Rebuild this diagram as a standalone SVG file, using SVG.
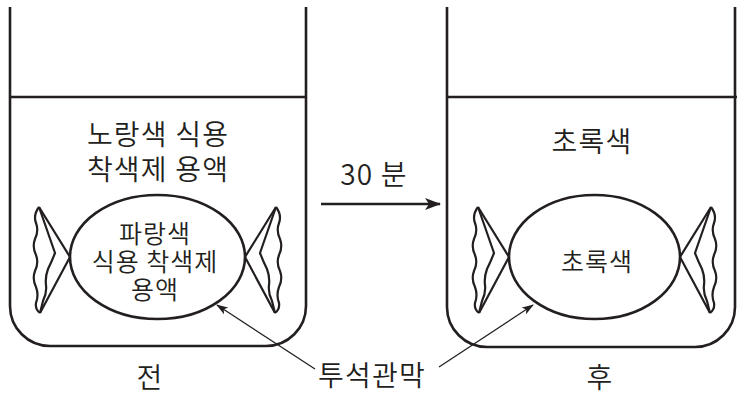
<svg xmlns="http://www.w3.org/2000/svg" width="737" height="396" viewBox="0 0 737 396">
  <style>
    .wall { fill: none; stroke: #231f20; stroke-width: 2.6; }
    .sac { fill: none; stroke: #231f20; stroke-width: 2.6; }
    .wrap { fill: none; stroke: #231f20; stroke-width: 2.2; stroke-linejoin: round; }
    .ptr { fill: none; stroke: #231f20; stroke-width: 1.3; }
    .lbl { font-family: "Noto Sans CJK KR", "Noto Sans", sans-serif; font-weight: 350; fill: #231f20; text-anchor: middle; }
    .big { font-size: 28px; letter-spacing: 1.2px; }
    .mid { font-size: 25px; letter-spacing: 1px; }
  </style>
  <defs>
    <marker id="head" viewBox="0 0 16 12" refX="15" refY="6" markerWidth="16" markerHeight="12" markerUnits="userSpaceOnUse" orient="auto">
      <path d="M0,0 L16,6 L0,12 L4,6 Z" fill="#231f20"/>
    </marker>
    <marker id="headSmall" viewBox="0 0 12 8" refX="11" refY="4" markerWidth="12" markerHeight="8" markerUnits="userSpaceOnUse" orient="auto">
      <path d="M0,0 L12,4 L0,8 L3,4 Z" fill="#231f20"/>
    </marker>
    <!-- one twisted end of a wrapped sac; tip at origin, opening to the left -->
    <g id="twist">
      <path class="wrap" d="M-31,-50 L0,0 L-30,56"/>
      <path class="wrap" d="M-31,-50 Q-37,-42 -34,-34 Q-31,-26 -35,-18 Q-38,-10 -34,-2 Q-31,6 -35,14 Q-38,22 -34,30 Q-31,38 -34,46 Q-35,52 -30,56"/>
      <path class="wrap" d="M-31,-50 L-15,-4 Q-18,4 -22,12 Q-25,20 -24,28 Q-23,36 -27,44 L-30,56"/>
    </g>
  </defs>

  <!-- before: beaker with yellow solution -->
  <g id="beaker-before">
    <path class="wall" d="M10,7 V306 A40,40 0 0 0 50,346 H266 A40,40 0 0 0 306,306 V7"/>
    <line class="wall" x1="10" y1="97" x2="306" y2="97"/>
    <text class="lbl big" x="158" y="145">노랑색 식용</text>
    <text class="lbl big" x="158" y="180">착색제 용액</text>
  </g>

  <g id="sac-before">
    <ellipse class="sac" cx="157.5" cy="257" rx="87.5" ry="62"/>
    <use href="#twist" transform="translate(70,257)"/>
    <use href="#twist" transform="translate(245,257) scale(-1,1)"/>
    <text class="lbl mid" x="155" y="243">파랑색</text>
    <text class="lbl mid" x="155" y="271">식용 착색제</text>
    <text class="lbl mid" x="155" y="299">용액</text>
  </g>

  <!-- after: beaker with green solution -->
  <g id="beaker-after">
    <path class="wall" d="M447,7 V307 A40,40 0 0 0 487,347 H695 A40,40 0 0 0 735,307 V7"/>
    <line class="wall" x1="447" y1="97" x2="737" y2="97"/>
    <text class="lbl big" x="592" y="152">초록색</text>
  </g>

  <g id="sac-after">
    <ellipse class="sac" cx="594.5" cy="257" rx="85.5" ry="62"/>
    <use href="#twist" transform="translate(509,257)"/>
    <use href="#twist" transform="translate(680,257) scale(-1,1)"/>
    <text class="lbl mid" x="597" y="271">초록색</text>
  </g>

  <g id="labels">
    <text class="lbl big" x="374" y="185">30 분</text>
    <text class="lbl big" x="372" y="386">투석관막</text>
    <text class="lbl big" x="150" y="388">전</text>
    <text class="lbl big" x="600" y="388">후</text>
  </g>

  <g id="connectors">
    <line class="wall" x1="321" y1="204" x2="440" y2="204" stroke-width="2.2" marker-end="url(#head)"/>
    <line class="ptr" x1="315" y1="369" x2="217" y2="305" marker-end="url(#headSmall)"/>
    <line class="ptr" x1="439" y1="367" x2="533" y2="305" marker-end="url(#headSmall)"/>
  </g>
</svg>
